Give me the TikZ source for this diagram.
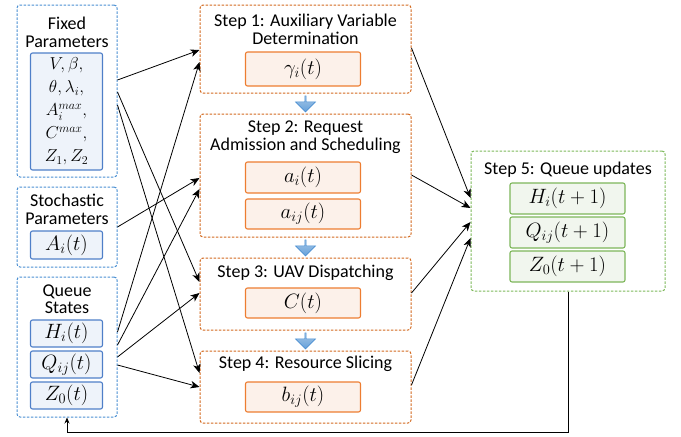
\documentclass[tikz,border=0pt]{standalone}
\usepackage{fontspec}
\setmainfont{Carlito}
\usepackage{tikz}
\usetikzlibrary{arrows.meta, shapes.arrows}
\definecolor{grpblue}{HTML}{4A8FD2}
\definecolor{varblue}{HTML}{4F7FC8}
\definecolor{fillblue}{HTML}{EEF3FA}
\definecolor{grporange}{HTML}{D2691E}
\definecolor{varorange}{HTML}{ED7D31}
\definecolor{fillorange}{HTML}{FCF1EA}
\definecolor{grpgreen}{HTML}{7DB85A}
\definecolor{vargreen}{HTML}{7DB65A}
\definecolor{fillgreen}{HTML}{F1F6EE}
\tikzset{
	groupbox/.style={
			draw=#1,
			dash pattern=on 2.5pt off 1.5pt,
			rounded corners=3pt,
			line width=1pt,
			inner sep=0pt
		},
	varbox/.style 2 args={
			draw=#1,
			fill=#2,
			rounded corners=2pt,
			line width=1.1pt,
			inner sep=0pt,
			font=\fontsize{21}{24}\selectfont
		},
	bluevar/.style={
			varbox={varblue}{fillblue},
			minimum width=72
		},
	orangevar/.style={
			varbox={varorange}{fillorange},
			minimum width=115
		},
	greenvar/.style={
			varbox={vargreen}{fillgreen},
			minimum width=115,
			minimum height=31
		},
	titletext/.style={
			align=center,
			inner sep=0pt,
			font=\fontsize{18}{17.5}\selectfont
		},
	stepdown/.style={
			single arrow,
			shape border rotate=270,
			draw=grpblue,
			line width=0.6pt,
			top color=grpblue!50,
			bottom color=grpblue!85,
			minimum width=20,
			minimum height=16,
			single arrow head extend=4pt,
			inner sep=0pt
		},
	conn/.style={
			-{Stealth[length=9pt, width=7.5pt, inset=2.5pt]},
			line width=0.8pt
		},
	feedback/.style={
			-{Stealth[length=6pt, width=5pt]},
			line width=0.8pt
		}
}

\begin{document}
\begin{tikzpicture}[x=1pt, y=-1pt]
\useasboundingbox (0,0) rectangle (681,437);

\node[groupbox=grpblue, minimum width=100, minimum height=172] (fp) at (67,91) {};
\node[titletext] (fpT) at (67,32.5) {Fixed\\Parameters};
\node[bluevar, minimum height=117, align=center, font=\fontsize{18.5}{23}\selectfont] (fpV) at (66.5,111.5)
	{$V,\beta,$\\$\theta,\lambda_i,$\\$A_i^{max},$\\$C^{max},$\\$Z_1,Z_2$};

\node[groupbox=grpblue, minimum width=100, minimum height=80] (sp) at (67,227) {};
\node[titletext] (spT) at (67,209.5) {Stochastic\\Parameters};
\node[bluevar, minimum height=28] (spA) at (66.5,245) {$A_i(t)$};

\node[groupbox=grpblue, minimum width=100, minimum height=140] (qs) at (67,347) {};
\node[titletext] (qsT) at (67,299) {Queue\\States};
\node[bluevar, minimum height=27] (qsH) at (66.5,333.5) {$H_i(t)$};
\node[bluevar, minimum height=27] (qsQ) at (66.5,364.5) {$Q_{ij}(t)$};
\node[bluevar, minimum height=27] (qsZ) at (66.5,395.5) {$Z_0(t)$};

\node[groupbox=grporange, minimum width=211, minimum height=88] (s1) at (305.5,49) {};
\node[titletext] (s1T) at (305.5,29.5) {Step 1: Auxiliary Variable\\Determination};
\node[orangevar, minimum height=34] (s1V) at (303,69) {$\gamma_i(t)$};

\node[groupbox=grporange, minimum width=211, minimum height=123] (s2) at (305.5,175.5) {};
\node[titletext] (s2T) at (305.5,137) {Step 2: Request\\Admission and Scheduling};
\node[orangevar, minimum height=31] (s2A) at (303,177.5) {$a_i(t)$};
\node[orangevar, minimum height=30] (s2B) at (303,214) {$a_{ij}(t)$};

\node[groupbox=grporange, minimum width=211, minimum height=72] (s3) at (305.5,294) {};
\node[titletext] (s3T) at (305.5,273) {Step 3: UAV Dispatching};
\node[orangevar, minimum height=30] (s3C) at (303,303) {$C(t)$};

\node[groupbox=grporange, minimum width=211, minimum height=72] (s4) at (305.5,387) {};
\node[titletext] (s4T) at (305.5,364) {Step 4: Resource Slicing};
\node[orangevar, minimum height=30] (s4B) at (303,397) {$b_{ij}(t)$};

\node[groupbox=grpgreen, minimum width=194, minimum height=140] (s5) at (568,221) {};
\node[titletext] (s5T) at (568,170) {Step 5: Queue updates};
\node[greenvar] (s5H) at (567.5,198.5) {$H_i(t+1)$};
\node[greenvar] (s5Q) at (567.5,232.5) {$Q_{ij}(t+1)$};
\node[greenvar] (s5Z) at (567.5,266.5) {$Z_0(t+1)$};

\node[stepdown] (d12) at (305.5,103.5) {};
\node[stepdown] (d23) at (305.5,247.5) {};
\node[stepdown] (d34) at (305.5,340.5) {};

\draw[conn] ([yshift=11pt]fp.east) -- ([yshift=-1pt]s1.west);
\draw[conn] ([yshift=15pt]qs.east) -- ([yshift=-13pt]s1.west);
\draw[conn] (sp.east) -- ([yshift=-2.5pt]s2.west);
\draw[conn] ([yshift=2pt]qs.east) -- ([yshift=-13.5pt]s2.west);
\draw[conn] ([yshift=-1pt]fp.east) -- ([yshift=12pt]s3.west);
\draw[conn] ([yshift=-10pt]qs.east) -- ([yshift=1pt]s3.west);
\draw[conn] ([yshift=-14pt]fp.east) -- ([yshift=14pt]s4.west);
\draw[conn] ([yshift=-18pt]qs.east) -- (s4.west);

\draw[conn] ([yshift=1pt]s1.east) -- ([yshift=23pt]s5.west);
\draw[conn] ([yshift=0.5pt]s2.east) -- ([yshift=13pt]s5.west);
\draw[conn] ([yshift=1pt]s3.east) -- ([yshift=-1pt]s5.west);
\draw[conn] ([yshift=2pt]s4.east) -- ([yshift=-17pt]s5.west);

\draw[feedback] (s5.south) -- ++(0,141) -| (qs.south);

\end{tikzpicture}
\end{document}
